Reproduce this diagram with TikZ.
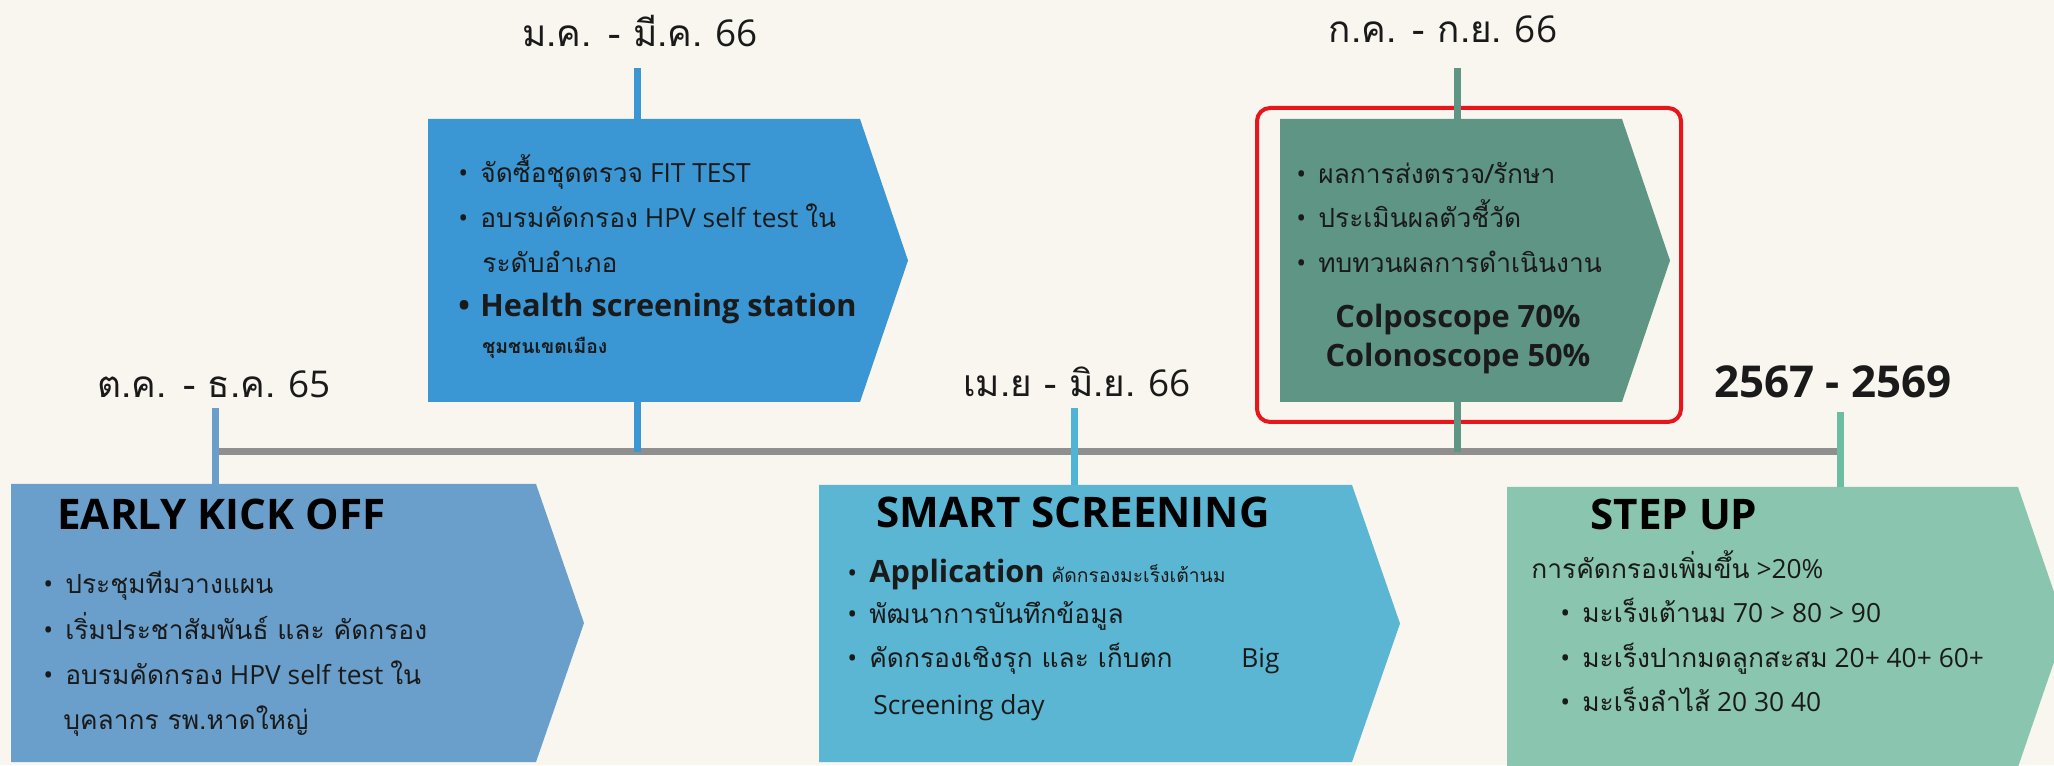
\documentclass[tikz,border=0pt]{standalone}
\usepackage{fontspec}
\setmainfont{Open Sans}
\newfontfamily\thai[Script=Thai]{Loma}
\usetikzlibrary{calc}

\definecolor{bg}{HTML}{F9F6EF}
\definecolor{kickoff}{HTML}{6A9FCB}
\definecolor{fitblue}{HTML}{3A97D4}
\definecolor{smart}{HTML}{5BB6D3}
\definecolor{smarttick}{HTML}{4FB4D6}
\definecolor{review}{HTML}{5E9584}
\definecolor{stepup}{HTML}{8AC5B0}
\definecolor{steptick}{HTML}{6EBDA3}
\definecolor{axisgray}{HTML}{8F8F8F}
\definecolor{hilite}{HTML}{E8161B}
\definecolor{ink}{HTML}{1A1A1A}

\newcommand{\tht}[1]{{\thai #1}}
\newcommand{\bul}{\makebox[0.44cm][l]{\textbullet}}
\newcommand{\chevron}[5]{\fill[#1] (#2,#3) -- (#4,#3) -- ({#4+0.48},{(#3+#5)/2}) -- (#4,#5) -- (#2,#5) -- cycle;}

\tikzset{
  tick/.style={line width=0.14cm},
  body/.style={anchor=base west,inner sep=0pt,text=ink,font=\fontsize{15}{18}\selectfont},
  head/.style={anchor=base west,inner sep=0pt,text=black,font=\fontsize{24}{28}\selectfont\bfseries},
  datelbl/.style={anchor=base,inner sep=0pt,text=ink,font=\fontsize{21}{24}\selectfont},
  bigbold/.style={font=\fontsize{17.5}{20}\selectfont\bfseries},
  tiny/.style={font=\fontsize{11}{13}\selectfont\bfseries}
}

\begin{document}
\begin{tikzpicture}[x=2cm,y=2cm]
  \fill[bg] (0,0) rectangle (20.54,7.65);
  \useasboundingbox (0,0) rectangle (20.54,7.65);
  \clip (0,0) rectangle (20.54,7.65);

  % chevrons
  \chevron{kickoff}{0.11}{2.81}{5.36}{0.03}
  \chevron{fitblue}{4.28}{6.46}{8.60}{3.63}
  \chevron{smart}{8.19}{2.80}{13.52}{0.03}
  \chevron{review}{12.80}{6.46}{16.22}{3.63}
  \chevron{stepup}{15.07}{2.78}{20.18}{-0.02}
  \draw[hilite,line width=0.08cm,rounded corners=0.26cm] (12.57,6.57) rectangle (16.81,3.43);

  % timeline
  \coordinate (a1) at (2.15,3.13);
  \coordinate (a2) at (6.37,3.13);
  \coordinate (a4) at (14.57,3.13);
  \coordinate (a5) at (18.40,3.13);
  \draw[axisgray,line width=0.14cm] (a1) -- (a5);

  \coordinate (k1) at (2.15,3.57);  \coordinate (e1) at (2.15,2.81);
  \coordinate (k2) at (6.37,6.97);  \coordinate (e2) at (6.37,6.46);
  \coordinate (f2) at (6.37,3.63);
  \coordinate (k3) at (10.74,3.57); \coordinate (e3) at (10.74,2.80);
  \coordinate (k4) at (14.57,6.97); \coordinate (e4) at (14.57,6.46);
  \coordinate (f4) at (14.57,3.63);
  \coordinate (k5) at (18.40,3.53); \coordinate (e5) at (18.40,2.78);
  \draw[tick,kickoff] (k1) -- (e1);
  \draw[tick,fitblue] (k2) -- (e2);
  \draw[tick,fitblue] (f2) -- (a2);
  \draw[tick,smarttick] (k3) -- (e3);
  \draw[tick,review] (k4) -- (e4);
  \draw[tick,review] (f4) -- (a4);
  \draw[tick,steptick] (k5) -- (e5);

  % dates
  \node[datelbl] (d1) at (2.14,3.67) {\tht{ต.ค. - ธ.ค.} 65};
  \node[datelbl] (d2) at (6.40,7.18) {\tht{ม.ค. - มี.ค.} 66};
  \node[datelbl] (d3) at (10.77,3.68) {\tht{เม.ย - มิ.ย.} 66};
  \node[datelbl] (d4) at (14.43,7.22) {\tht{ก.ค. - ก.ย.} 66};
  \node[datelbl,font=\fontsize{25}{28}\selectfont\bfseries] (d5) at (18.33,3.67) {2567 - 2569};

  % early kick off
  \node[head] (h1) at (0.57,2.35) {EARLY KICK OFF};
  \node[body] (b1a) at (0.43,1.71) {\bul\tht{ประชุมทีมวางแผน}};
  \node[body] (b1b) at (0.43,1.25) {\bul\tht{เริ่มประชาสัมพันธ์ และ คัดกรอง}};
  \node[body] (b1c) at (0.43,0.80) {\bul\tht{อบรมคัดกรอง} HPV self test \tht{ใน}};
  \node[body] (b1d) at (0.63,0.35) {\tht{บุคลากร รพ.หาดใหญ่}};

  % jan - mar
  \node[body] (b2a) at (4.58,5.82) {\bul\tht{จัดซื้อชุดตรวจ} FIT TEST};
  \node[body] (b2b) at (4.58,5.37) {\bul\tht{อบรมคัดกรอง} HPV self test \tht{ใน}};
  \node[body] (b2c) at (4.82,4.92) {\tht{ระดับอำเภอ}};
  \node[body,bigbold] (b2d) at (4.58,4.48) {\bul Health screening station};
  \node[body,tiny] (b2e) at (4.82,4.11) {\tht{ชุมชนเขตเมือง}};

  % smart screening
  \node[head,anchor=base] (h3) at (10.73,2.37) {SMART SCREENING};
  \node[body] (b3a) at (8.47,1.82) {\bul{\fontsize{17.5}{20}\selectfont\bfseries Application} {\fontsize{11}{13}\selectfont\tht{คัดกรองมะเร็งเต้านม}}};
  \node[body] (b3b) at (8.47,1.41) {\bul\tht{พัฒนาการบันทึกข้อมูล}};
  \node[body] (b3c) at (8.47,0.97) {\bul\tht{คัดกรองเชิงรุก และ เก็บตก}};
  \node[body] (b3d) at (12.41,0.97) {Big};
  \node[body] (b3e) at (8.73,0.51) {Screening day};

  % jul - sep
  \node[body] (b4a) at (12.96,5.81) {\bul\tht{ผลการส่งตรวจ/รักษา}};
  \node[body] (b4b) at (12.96,5.37) {\bul\tht{ประเมินผลตัวชี้วัด}};
  \node[body] (b4c) at (12.96,4.92) {\bul\tht{ทบทวนผลการดำเนินงาน}};
  \node[body,bigbold,anchor=base] (c4a) at (14.58,4.37) {Colposcope 70\%};
  \node[body,bigbold,anchor=base] (c4b) at (14.58,3.98) {Colonoscope 50\%};

  % step up
  \node[head] (h5) at (15.90,2.35) {STEP UP};
  \node[body] (i5) at (15.31,1.86) {\tht{การคัดกรองเพิ่มขึ้น} >20\%};
  \node[body] (b5a) at (15.60,1.42) {\bul\tht{มะเร็งเต้านม} 70 > 80 > 90};
  \node[body] (b5b) at (15.60,0.97) {\bul\tht{มะเร็งปากมดลูกสะสม} 20+ 40+ 60+};
  \node[body] (b5c) at (15.60,0.54) {\bul\tht{มะเร็งลำไส้} 20 30 40};
\end{tikzpicture}
\end{document}
